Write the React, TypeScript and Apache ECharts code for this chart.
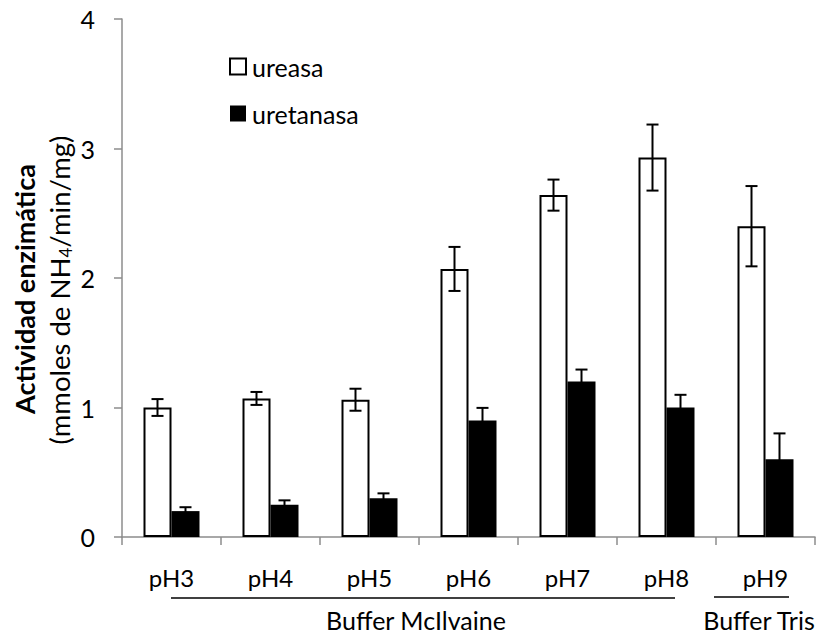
import React, { useEffect, useRef } from "react";
import * as echarts from "echarts";

const categories = ["pH3", "pH4", "pH5", "pH6", "pH7", "pH8", "pH9"];
const ureasa = [1.0, 1.07, 1.06, 2.07, 2.64, 2.93, 2.4];
const ureasaErr = [0.065, 0.05, 0.085, 0.17, 0.12, 0.255, 0.31];
const uretanasa = [0.2, 0.25, 0.3, 0.9, 1.2, 1.0, 0.6];
const uretanasaErr = [0.03, 0.033, 0.037, 0.097, 0.093, 0.098, 0.2];
const yTicks = [0, 1, 2, 3, 4];

const FONT = "Lato, 'Open Sans', sans-serif";
const BAR_W = 28;

function errorSeries(values: number[], errs: number[], offset: number) {
  return {
    type: "custom",
    z: 5,
    silent: true,
    data: values.map((v, i) => [i, v, errs[i]]),
    renderItem: (_params: any, api: any) => {
      const i = api.value(0);
      const v = api.value(1);
      const e = api.value(2);
      const x = api.coord([i, v])[0] + offset;
      const top = api.coord([i, v + e])[1];
      const bot = api.coord([i, v - e])[1];
      const half = 6;
      const style = { stroke: "#000", lineWidth: 2 };
      return {
        type: "group",
        children: [
          { type: "line", shape: { x1: x, y1: top, x2: x, y2: bot }, style },
          { type: "line", shape: { x1: x - half, y1: top, x2: x + half, y2: top }, style },
          { type: "line", shape: { x1: x - half, y1: bot, x2: x + half, y2: bot }, style },
        ],
      };
    },
  };
}

export default function App() {
  const ref = useRef<HTMLDivElement>(null);

  useEffect(() => {
    if (!ref.current) return;
    const chart = echarts.init(ref.current, undefined, { renderer: "svg" });
    const axisColor = "#8c8c8c";
    chart.setOption({
      animation: false,
      backgroundColor: "#fff",
      textStyle: { fontFamily: FONT, color: "#000" },
      grid: { left: 122, right: 9, top: 19, bottom: 96 },
      legend: {
        left: 229,
        top: 54,
        padding: 0,
        orient: "vertical",
        icon: "rect",
        itemWidth: 16,
        itemHeight: 16,
        itemGap: 22,
        textStyle: { fontFamily: FONT, fontSize: 25, color: "#000", padding: [0, 0, 0, 1] },
        data: ["ureasa", "uretanasa"],
      },
      xAxis: {
        type: "category",
        data: categories,
        axisLine: { lineStyle: { color: axisColor, width: 1.5 } },
        axisTick: { show: true, length: 8, lineStyle: { color: axisColor, width: 1.5 } },
        axisLabel: { fontFamily: FONT, fontSize: 24, color: "#000", margin: 28 },
      },
      yAxis: {
        type: "value",
        min: yTicks[0],
        max: yTicks[yTicks.length - 1],
        interval: 1,
        splitLine: { show: false },
        axisLine: { show: true, lineStyle: { color: axisColor, width: 1.5 } },
        axisTick: { show: true, length: 8, lineStyle: { color: axisColor, width: 1.5 } },
        axisLabel: { fontFamily: FONT, fontSize: 25, color: "#000", margin: 27 },
      },
      series: [
        {
          name: "ureasa",
          type: "bar",
          data: ureasa,
          barWidth: BAR_W,
          barGap: "0%",
          itemStyle: { color: "#fff", borderColor: "#000", borderWidth: 2 },
        },
        {
          name: "uretanasa",
          type: "bar",
          data: uretanasa,
          barWidth: BAR_W,
          barGap: "0%",
          itemStyle: { color: "#000", borderColor: "#000", borderWidth: 0 },
        },
        errorSeries(ureasa, ureasaErr, -BAR_W / 2),
        errorSeries(uretanasa, uretanasaErr, BAR_W / 2),
      ],
      graphic: [
        {
          type: "text",
          x: 24,
          y: 289,
          rotation: Math.PI / 2,
          style: {
            text: "Actividad enzimática",
            fontFamily: FONT,
            fontWeight: "bold",
            fontSize: 27,
            fill: "#000",
            align: "center",
            verticalAlign: "middle",
          },
        },
        {
          type: "text",
          x: 59,
          y: 290,
          rotation: Math.PI / 2,
          style: {
            text: "(mmoles de NH{sub|4}/min/mg)",
            fontFamily: FONT,
            fontSize: 27.5,
            fill: "#000",
            align: "center",
            verticalAlign: "middle",
            rich: {
              sub: { fontFamily: FONT, fontSize: 17, fill: "#000", verticalAlign: "bottom", padding: [12, 0, 0, 0] },
            },
          },
        },
        {
          type: "line",
          shape: { x1: 171, y1: 598, x2: 675, y2: 598 },
          style: { stroke: "#000", lineWidth: 1.5 },
        },
        {
          type: "text",
          x: 416,
          y: 632,
          style: {
            text: "Buffer McIlvaine",
            fontFamily: FONT,
            fontSize: 25,
            fill: "#000",
            align: "center",
            verticalAlign: "bottom",
          },
        },
        {
          type: "line",
          shape: { x1: 714, y1: 597, x2: 789, y2: 597 },
          style: { stroke: "#000", lineWidth: 1.5 },
        },
        {
          type: "text",
          x: 759,
          y: 632,
          style: {
            text: "Buffer Tris",
            fontFamily: FONT,
            fontSize: 25,
            fill: "#000",
            align: "center",
            verticalAlign: "bottom",
          },
        },
      ],
    });
    return () => chart.dispose();
  }, []);

  return (
    <div
      ref={ref}
      style={{ position: "fixed", left: 0, top: 0, width: 824, height: 633 }}
    />
  );
}
